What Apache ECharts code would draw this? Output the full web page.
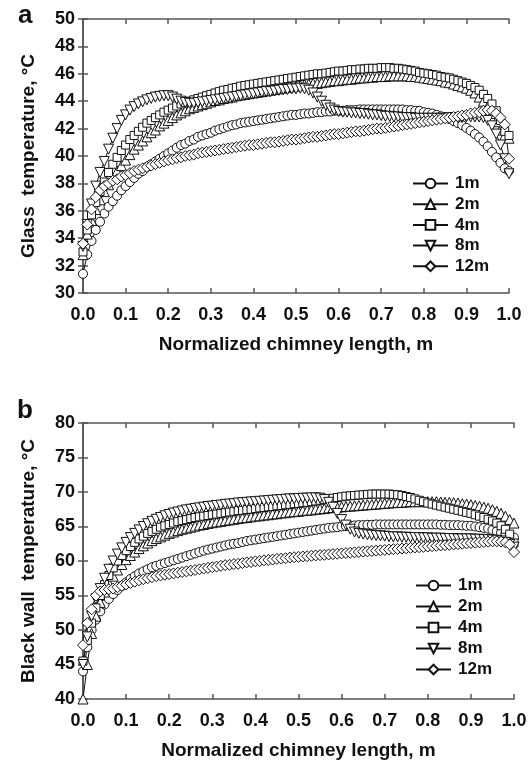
<!DOCTYPE html>
<html>
<head>
<meta charset="utf-8">
<style>
  html, body { margin: 0; padding: 0; background: #fff; }
  #main { width: 531px; height: 764px; }
</style>
<script src="https://cdn.jsdelivr.net/npm/echarts@6/dist/echarts.min.js"></script>
</head>
<body>
<div id="main"></div>
<script>
// normalized chimney length (x positions)
var xs = [0.00,0.01,0.02,0.03,0.04,0.05,0.06,0.07,0.08,0.09,
          0.10,0.11,0.12,0.13,0.14,0.15,0.16,0.17,0.18,0.19,
          0.20,0.21,0.22,0.23,0.24,0.25,0.26,0.27,0.28,0.29,
          0.30,0.31,0.32,0.33,0.34,0.35,0.36,0.37,0.38,0.39,
          0.40,0.41,0.42,0.43,0.44,0.45,0.46,0.47,0.48,0.49,
          0.50,0.51,0.52,0.53,0.54,0.55,0.56,0.57,0.58,0.59,
          0.60,0.61,0.62,0.63,0.64,0.65,0.66,0.67,0.68,0.69,
          0.70,0.71,0.72,0.73,0.74,0.75,0.76,0.77,0.78,0.79,
          0.80,0.81,0.82,0.83,0.84,0.85,0.86,0.87,0.88,0.89,
          0.90,0.91,0.92,0.93,0.94,0.95,0.96,0.97,0.98,0.99,1.00];

var names = ['1m', '2m', '4m', '8m', '12m'];
var xTicks = [0, 0.1, 0.2, 0.3, 0.4, 0.5, 0.6, 0.7, 0.8, 0.9, 1.0];
var yTicksA = [30, 32, 34, 36, 38, 40, 42, 44, 46, 48, 50];
var yTicksB = [40, 45, 50, 55, 60, 65, 70, 75, 80];

// (a) glass temperature
var glass1m = [31.4,32.8,33.8,34.6,35.2,35.8,36.3,36.7,37.1,37.5,
  37.8,38.1,38.4,38.7,38.9,39.2,39.4,39.6,39.8,40.0,
  40.2,40.4,40.6,40.8,40.9,41.1,41.2,41.4,41.5,41.6,
  41.7,41.85,41.95,42.05,42.15,42.25,42.3,42.4,42.45,42.5,
  42.55,42.6,42.65,42.7,42.75,42.8,42.85,42.9,42.95,43.0,
  43.0,43.05,43.1,43.1,43.15,43.2,43.2,43.25,43.25,43.3,
  43.3,43.3,43.35,43.35,43.35,43.4,43.4,43.4,43.4,43.4,
  43.4,43.4,43.4,43.4,43.4,43.4,43.35,43.35,43.3,43.3,
  43.2,43.15,43.1,43.0,42.9,42.8,42.7,42.55,42.4,42.25,
  42.05,41.85,41.6,41.35,41.05,40.7,40.3,39.9,39.5,39.1,38.9];
var glass2m = [32.8,34.3,35.3,36.1,36.8,37.4,37.9,38.4,38.9,39.3,
  39.7,40.1,40.5,40.8,41.1,41.4,41.7,41.9,42.2,42.4,
  42.6,42.8,43.0,43.15,43.3,43.45,43.55,43.65,43.75,43.85,
  43.95,44.05,44.1,44.2,44.25,44.3,44.4,44.45,44.5,44.55,
  44.6,44.65,44.7,44.75,44.8,44.85,44.9,44.95,45.0,45.05,
  45.1,45.15,45.2,45.25,45.3,45.3,45.35,45.4,45.45,45.5,
  45.5,45.55,45.6,45.6,45.65,45.7,45.7,45.75,45.75,45.8,
  45.8,45.8,45.85,45.85,45.85,45.85,45.85,45.8,45.8,45.75,
  45.7,45.65,45.6,45.55,45.5,45.4,45.35,45.25,45.15,45.05,
  44.95,44.8,44.6,44.3,44.0,43.6,43.1,42.5,41.9,41.5,41.3];
var glass4m = [33.0,34.6,35.7,36.6,37.4,38.1,38.8,39.4,39.9,40.4,
  40.8,41.2,41.5,41.8,42.1,42.4,42.6,42.8,43.0,43.2,
  43.35,43.5,43.65,43.8,43.9,44.0,44.1,44.2,44.3,44.4,
  44.5,44.6,44.7,44.8,44.85,44.95,45.0,45.1,45.15,45.2,
  45.25,45.3,45.35,45.4,45.45,45.5,45.55,45.6,45.65,45.7,
  45.75,45.8,45.85,45.9,45.95,46.0,46.0,46.05,46.1,46.15,
  46.2,46.2,46.25,46.3,46.3,46.35,46.35,46.4,46.4,46.4,
  46.45,46.45,46.45,46.4,46.4,46.35,46.3,46.25,46.2,46.1,
  46.05,46.0,45.95,45.9,45.8,45.75,45.7,45.6,45.5,45.4,
  45.3,45.15,45.0,44.8,44.5,44.2,43.8,43.3,42.6,41.8,41.5];
var glass8m = [33.4,35.0,36.5,37.8,38.8,39.6,40.5,41.3,42.0,42.6,
  43.0,43.35,43.6,43.8,43.95,44.1,44.2,44.3,44.35,44.4,
  44.4,44.3,44.15,44.0,43.9,43.85,43.85,43.9,43.95,44.0,
  44.05,44.1,44.15,44.2,44.25,44.3,44.35,44.4,44.45,44.5,
  44.55,44.6,44.65,44.7,44.7,44.75,44.8,44.85,44.85,44.9,
  44.9,44.95,44.9,44.8,44.6,44.3,44.0,43.7,43.5,43.35,
  43.25,43.2,43.2,43.15,43.15,43.1,43.1,43.05,43.0,43.0,
  42.95,42.9,42.9,42.85,42.85,42.8,42.8,42.8,42.75,42.75,
  42.75,42.75,42.75,42.75,42.75,42.75,42.8,42.8,42.8,42.8,
  42.85,42.85,42.85,42.85,42.8,42.6,42.2,41.6,40.8,39.8,38.7];
var glass12m = [33.6,35.0,36.1,37.0,37.5,37.8,38.0,38.2,38.3,38.5,
  38.6,38.75,38.9,39.0,39.1,39.2,39.3,39.4,39.5,39.6,
  39.7,39.75,39.85,39.9,40.0,40.05,40.1,40.2,40.25,40.3,
  40.35,40.4,40.45,40.5,40.55,40.6,40.65,40.7,40.75,40.8,
  40.8,40.85,40.9,40.95,41.0,41.0,41.05,41.1,41.15,41.2,
  41.2,41.25,41.3,41.35,41.4,41.4,41.45,41.5,41.55,41.6,
  41.6,41.65,41.7,41.75,41.8,41.8,41.85,41.9,41.95,42.0,
  42.0,42.05,42.1,42.15,42.2,42.25,42.3,42.35,42.4,42.45,
  42.5,42.55,42.6,42.65,42.7,42.75,42.8,42.85,42.9,42.95,
  43.0,43.1,43.15,43.2,43.3,43.35,43.3,43.1,42.8,42.3,39.8];

// (b) black wall temperature
var wall1m = [44.0,47.5,50.0,51.5,52.7,53.7,54.5,55.2,55.8,56.4,
  56.9,57.4,57.8,58.2,58.5,58.8,59.1,59.3,59.5,59.7,
  59.9,60.1,60.3,60.5,60.7,60.9,61.1,61.3,61.5,61.65,
  61.8,61.95,62.1,62.25,62.4,62.5,62.6,62.75,62.9,63.0,
  63.1,63.2,63.3,63.4,63.5,63.6,63.7,63.8,63.9,64.0,
  64.1,64.2,64.3,64.4,64.5,64.6,64.7,64.8,64.85,64.9,
  65.0,65.05,65.1,65.15,65.2,65.2,65.25,65.25,65.3,65.3,
  65.3,65.3,65.3,65.3,65.3,65.3,65.3,65.3,65.3,65.3,
  65.3,65.3,65.3,65.25,65.25,65.2,65.2,65.2,65.15,65.1,
  65.1,65.0,64.9,64.8,64.7,64.5,64.3,64.1,63.9,63.6,63.4];
var wall2m = [40.0,45.0,49.5,52.0,54.0,55.5,56.8,57.8,58.7,59.5,
  60.2,60.8,61.3,61.8,62.2,62.6,62.95,63.25,63.5,63.75,
  64.0,64.2,64.4,64.6,64.75,64.9,65.05,65.2,65.3,65.45,
  65.55,65.65,65.75,65.85,65.95,66.05,66.15,66.25,66.3,66.4,
  66.5,66.55,66.65,66.7,66.8,66.85,66.95,67.0,67.1,67.15,
  67.2,67.3,67.35,67.4,67.5,67.55,67.6,67.7,67.75,67.8,
  67.85,67.9,67.95,68.0,68.05,68.1,68.15,68.2,68.25,68.3,
  68.35,68.4,68.45,68.5,68.5,68.55,68.6,68.6,68.6,68.6,
  68.6,68.6,68.6,68.55,68.5,68.5,68.45,68.4,68.3,68.25,
  68.15,68.05,67.95,67.8,67.65,67.45,67.2,66.9,66.5,66.0,65.5];
var wall4m = [45.5,48.5,51.0,53.2,55.0,56.6,57.9,59.0,60.0,60.8,
  61.5,62.1,62.7,63.2,63.6,64.0,64.3,64.6,64.9,65.1,
  65.3,65.5,65.7,65.85,66.0,66.15,66.3,66.4,66.5,66.6,
  66.7,66.8,66.9,67.0,67.1,67.2,67.3,67.35,67.45,67.5,
  67.6,67.7,67.75,67.85,67.9,68.0,68.05,68.15,68.2,68.3,
  68.35,68.45,68.5,68.6,68.7,68.8,68.9,69.0,69.1,69.2,
  69.3,69.4,69.45,69.5,69.55,69.6,69.65,69.7,69.7,69.7,
  69.7,69.7,69.65,69.6,69.5,69.35,69.2,69.0,68.8,68.6,
  68.4,68.25,68.1,67.95,67.8,67.65,67.5,67.35,67.2,67.05,
  66.9,66.7,66.5,66.3,66.05,65.8,65.5,65.1,64.6,63.9,62.6];
var wall8m = [45.0,49.0,52.0,54.5,56.0,57.5,58.8,60.0,61.0,61.9,
  62.7,63.4,64.0,64.5,65.0,65.4,65.75,66.05,66.3,66.55,
  66.75,66.95,67.1,67.25,67.4,67.5,67.6,67.7,67.8,67.9,
  67.95,68.05,68.1,68.2,68.25,68.3,68.4,68.45,68.5,68.55,
  68.6,68.65,68.7,68.75,68.8,68.85,68.9,68.95,69.0,69.0,
  69.05,69.1,69.1,69.15,69.15,69.1,68.9,68.5,67.8,66.9,
  66.0,65.2,64.6,64.2,64.0,63.9,63.8,63.75,63.7,63.65,
  63.6,63.55,63.5,63.5,63.45,63.45,63.4,63.4,63.4,63.35,
  63.35,63.3,63.3,63.3,63.25,63.25,63.25,63.2,63.2,63.2,
  63.2,63.15,63.15,63.1,63.1,63.05,63.0,62.9,62.7,62.4,62.0];
var wall12m = [47.8,51.0,53.0,55.0,55.6,55.8,55.9,56.0,56.2,56.4,
  56.6,56.8,57.0,57.2,57.35,57.5,57.65,57.8,57.9,58.0,
  58.1,58.2,58.3,58.4,58.5,58.6,58.7,58.8,58.9,59.0,
  59.1,59.2,59.3,59.4,59.45,59.55,59.6,59.7,59.8,59.85,
  59.95,60.0,60.1,60.15,60.2,60.3,60.35,60.4,60.5,60.55,
  60.6,60.65,60.7,60.75,60.8,60.85,60.9,60.95,61.0,61.05,
  61.1,61.15,61.2,61.25,61.3,61.35,61.4,61.45,61.5,61.55,
  61.6,61.65,61.7,61.75,61.8,61.85,61.9,61.95,62.0,62.05,
  62.1,62.15,62.2,62.25,62.3,62.35,62.4,62.45,62.5,62.55,
  62.6,62.65,62.7,62.75,62.8,62.85,62.85,62.8,62.7,62.4,61.3];

var glassData = [glass1m, glass2m, glass4m, glass8m, glass12m];
var wallData = [wall1m, wall2m, wall4m, wall8m, wall12m];

var myChart = echarts.init(document.getElementById('main'), null, { renderer: 'canvas' });

var FONT = '"Liberation Sans", Arial, sans-serif';
var axisColor = '#555';
var symbols = ['circle', 'triangle', 'rect', 'path://M0,0 L10,0 L5,9 Z', 'diamond'];
var sizes = [9, 10, 8, 10, 11];

function pairs(arr) {
  return xs.map(function (x, i) { return [x, arr[i]]; });
}

function makeSeries(arrs, idx) {
  return arrs.map(function (arr, k) {
    return {
      name: names[k],
      type: 'line',
      xAxisIndex: idx * 2,
      yAxisIndex: idx * 2,
      data: pairs(arr),
      symbol: symbols[k],
      symbolSize: sizes[k],
      showAllSymbol: true,
      lineStyle: { color: '#111', width: 1 },
      itemStyle: { color: '#fff', borderColor: '#111', borderWidth: 1 },
      emphasis: { disabled: true },
      animation: false
    };
  });
}

function xAxes(grid) {
  var base = {
    gridIndex: grid, type: 'value', min: 0, max: 1, interval: 0.1,
    axisLine: { lineStyle: { color: axisColor, width: 1.5 } },
    axisTick: { inside: true, length: 5, lineStyle: { color: axisColor, width: 1.5 } },
    splitLine: { show: false }
  };
  return [
    Object.assign({}, base, {
      position: 'bottom',
      axisLabel: {
        margin: 13, color: '#111', fontSize: 18, fontWeight: 'bold', fontFamily: FONT,
        formatter: function (v) { return v.toFixed(1); }
      },
      name: 'Normalized chimney length, m',
      nameLocation: 'middle', nameGap: 42,
      nameTextStyle: { color: '#111', fontSize: 19, fontWeight: 'bold', fontFamily: FONT }
    }),
    Object.assign({}, base, { position: 'top', axisLabel: { show: false } })
  ];
}

function yAxes(grid, min, max, step, title) {
  var base = {
    gridIndex: grid, type: 'value', min: min, max: max, interval: step,
    axisLine: { show: true, lineStyle: { color: axisColor, width: 1.5 } },
    axisTick: { show: true, inside: true, length: 5, lineStyle: { color: axisColor, width: 1.5 } },
    splitLine: { show: false }
  };
  return [
    Object.assign({}, base, {
      position: 'left',
      axisLabel: { margin: 8, color: '#111', fontSize: 18, fontWeight: 'bold', fontFamily: FONT },
      name: title,
      nameLocation: 'middle', nameGap: 45, nameRotate: 90,
      nameTextStyle: { color: '#111', fontSize: 19, fontWeight: 'bold', fontFamily: FONT }
    }),
    Object.assign({}, base, { position: 'right', axisLabel: { show: false } })
  ];
}

function legendAt(left, top, gap) {
  return {
    orient: 'vertical', left: left, top: top,
    itemWidth: 35, itemHeight: 12, itemGap: gap,
    data: names,
    selectedMode: false,
    textStyle: { color: '#111', fontSize: 17, fontWeight: 'bold', fontFamily: FONT, padding: [0, 0, 0, 2] }
  };
}

option = {
  backgroundColor: '#fff',
  animation: false,
  grid: [
    { left: 83, top: 19, width: 426, height: 274 },
    { left: 83, top: 423, width: 431, height: 276 }
  ],
  xAxis: xAxes(0).concat(xAxes(1)),
  yAxis: yAxes(0, 30, 50, 2, 'Glass  temperature, °C')
    .concat(yAxes(1, 40, 80, 5, 'Black wall  temperature, °C')),
  legend: [legendAt(407, 170, 3.7), legendAt(410, 572, 4)],
  graphic: [
    { type: 'text', left: 18, top: 3, style: { text: 'a', font: 'bold 26px ' + FONT, fill: '#111' } },
    { type: 'text', left: 17, top: 398, style: { text: 'b', font: 'bold 26px ' + FONT, fill: '#111' } }
  ],
  series: makeSeries(glassData, 0).concat(makeSeries(wallData, 1))
};

myChart.setOption(option);
</script>
</body>
</html>
